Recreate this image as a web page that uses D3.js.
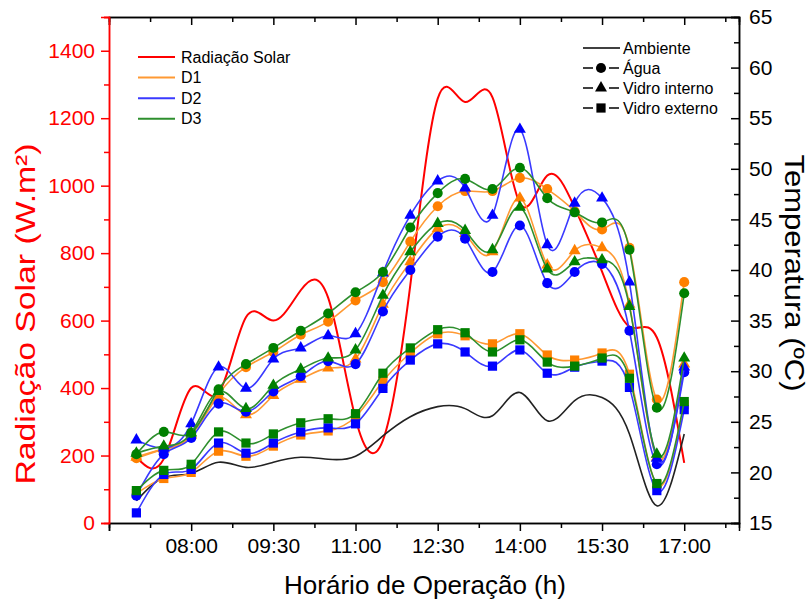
<!DOCTYPE html>
<html><head><meta charset="utf-8">
<script src="https://cdn.jsdelivr.net/npm/d3@7"></script>
<style>
body{margin:0;background:#fff}
svg{display:block}
text{font-family:"Liberation Sans",Arial,sans-serif}
</style></head>
<body><svg id="c" width="808" height="603"></svg>
<script>
const times = ["07:00","07:30","08:00","08:30","09:00","09:30","10:00","10:30","11:00","11:30","12:00","12:30","13:00","13:30","14:00","14:30","15:00","15:30","16:00","16:30","17:00"];
const radiacao = [195,190,400,385,610,600,690,668,310,245,705,1258,1248,1262,948,1030,935,745,582,550,178];
const ambiente = [17.2,19.5,19.9,21.0,20.5,21.0,21.5,21.3,21.6,23.6,25.5,26.5,26.3,25.6,27.9,25.1,27.1,27.4,23.8,16.7,23.8];

const d1Agua   = [21.4,22.3,23.7,27.7,30.4,31.9,33.6,34.9,37.0,38.8,42.8,46.3,47.8,47.8,49.1,48.0,45.8,44.0,42.2,27.2,38.8];
const d1VidInt = [21.5,22.3,23.7,27.4,25.7,27.6,29.2,30.3,31.2,36.6,40.8,44.1,43.6,41.8,47.1,40.5,41.9,42.2,36.6,21.5,30.7];
const d1VidExt = [17.9,19.4,20.0,22.1,21.6,22.6,23.7,24.1,25.5,29.0,31.8,33.7,33.5,32.7,33.7,31.6,31.1,31.8,29.7,18.8,26.7];

const d2Agua   = [17.7,21.8,23.4,26.8,26.0,28.0,29.5,31.0,30.7,35.9,40.0,43.3,43.1,39.8,44.4,38.7,39.8,40.6,34.0,20.8,29.9];
const d2VidInt = [23.2,22.4,24.8,30.4,28.3,31.2,32.3,33.5,33.7,39.7,45.4,48.8,48.1,45.4,53.9,42.5,46.6,47.1,38.8,21.4,30.4];
const d2VidExt = [16.0,19.8,20.3,22.9,21.9,22.9,24.0,24.4,24.8,28.3,31.1,32.7,31.9,30.5,32.1,29.8,30.4,31.0,28.4,18.2,26.2];

const d3Agua   = [21.8,24.0,23.9,28.2,30.7,32.3,34.0,35.7,37.8,39.8,44.2,47.6,49.0,48.0,50.1,47.1,45.7,44.7,42.0,26.4,37.7];
const d3VidInt = [21.9,22.6,23.9,28.0,26.3,28.6,30.2,31.3,32.1,37.5,41.8,44.6,43.9,42.0,46.2,40.1,40.8,41.0,36.4,21.8,31.3];
const d3VidExt = [18.2,20.2,20.8,24.0,22.9,23.8,24.9,25.3,25.8,29.8,32.3,34.1,33.8,31.9,33.1,30.9,30.5,31.3,29.3,18.9,27.0];

const xTickLabels = ["08:00","09:30","11:00","12:30","14:00","15:30","17:00"];
const leftTicks = [0,200,400,600,800,1000,1200,1400];
const rightTicks = [15,20,25,30,35,40,45,50,55,60,65];

const hrs = s => { const [h,m] = s.split(":").map(Number); return h + m/60; };

const L = 109, R = 739, T = 17, B = 523;
const svg = d3.select("#c");
const x = d3.scaleLinear().domain([6.5, 18]).range([L, R]);
const yL = d3.scaleLinear().domain([0, 1500]).range([B, T]);
const yR = d3.scaleLinear().domain([15, 65]).range([B, T]);

const xs = times.map(hrs);

// axes
const majorX = [6.5].concat(xTickLabels.map(hrs));
const minorX = majorX.map(v => v + 0.75);
const xAxisB = d3.axisBottom(x).tickValues(majorX).tickFormat(v => { const lab = xTickLabels.find(t => Math.abs(hrs(t)-v)<1e-6); return lab || ""; }).tickSize(8).tickPadding(7);
const gB = svg.append("g").attr("transform", `translate(0,${B})`).call(xAxisB);
gB.selectAll("text").attr("font-size", 21).attr("fill", "#000");
gB.append("g").call(d3.axisBottom(x).tickValues(minorX).tickSize(5).tickFormat(""));
const gT = svg.append("g").attr("transform", `translate(0,${T})`).call(d3.axisBottom(x).tickValues(majorX).tickSize(8).tickFormat(""));
gT.append("g").call(d3.axisBottom(x).tickValues(minorX).tickSize(5).tickFormat(""));

const gL = svg.append("g").attr("transform", `translate(${L},0)`).call(d3.axisLeft(yL).tickValues(leftTicks).tickFormat(d3.format("d")).tickSize(8).tickPadding(6));
gL.append("g").call(d3.axisLeft(yL).tickValues(leftTicks.map(v=>v+100)).tickSize(5).tickFormat(""));
gL.selectAll("text").attr("font-size", 21).attr("fill", "#ff0000");
gL.selectAll("line,path").attr("stroke", "#ff0000");

const gR = svg.append("g").attr("transform", `translate(${R},0)`).call(d3.axisRight(yR).tickValues(rightTicks).tickSize(-8).tickPadding(10));
gR.append("g").call(d3.axisRight(yR).tickValues(rightTicks.slice(0,-1).map(v=>v+2.5)).tickSize(-5).tickFormat(""));
gR.selectAll("text").attr("font-size", 21).attr("fill", "#000").attr("x", 10);

svg.selectAll(".domain").attr("stroke-width", 1.5);
svg.selectAll(".tick line").attr("stroke-width", 1.5);
gL.selectAll(".domain").attr("stroke", "#ff0000");

// titles
svg.append("text").attr("x", 425).attr("y", 594).attr("text-anchor","middle").attr("font-size", 26).text("Horário de Operação (h)");
svg.append("text").attr("transform", "translate(35,314) rotate(-90) scale(1.25,1)").attr("text-anchor","middle").attr("font-size", 27).attr("fill","#ff0000").text("Radiação Solar (W.m²)");
svg.append("text").attr("transform", "translate(785,273) rotate(90) scale(1.15,1)").attr("text-anchor","middle").attr("font-size", 27).attr("fill","#000").text("Temperatura (ºC)");

// lines
const lineL = d3.line().x((d,i)=>x(xs[i])).y(d=>yL(d)).curve(d3.curveNatural);
const lineR = d3.line().x((d,i)=>x(xs[i])).y(d=>yR(d)).curve(d3.curveNatural);
const plot = svg.append("g");
plot.append("path").attr("d", lineL(radiacao)).attr("fill","none").attr("stroke","#ff0000").attr("stroke-width",2);
plot.append("path").attr("d", lineR(ambiente)).attr("fill","none").attr("stroke","#222").attr("stroke-width",1.6);

const colors = {D1:"#ff8000", D2:"#0000ff", D3:"#008000"};
const lineColors = {D1:"#ff9933", D2:"#3a3aff", D3:"#2e8f2e"};
const series = [
  {d:"D1", v:d1Agua, s:"circle"},{d:"D1", v:d1VidInt, s:"tri"},{d:"D1", v:d1VidExt, s:"sq"},
  {d:"D2", v:d2Agua, s:"circle"},{d:"D2", v:d2VidInt, s:"tri"},{d:"D2", v:d2VidExt, s:"sq"},
  {d:"D3", v:d3Agua, s:"circle"},{d:"D3", v:d3VidInt, s:"tri"},{d:"D3", v:d3VidExt, s:"sq"}
];
const sym = {circle: d3.symbol(d3.symbolCircle, 80), tri: d3.symbol(d3.symbolTriangle, 62), sq: d3.symbol(d3.symbolSquare, 85)};
series.forEach(s => {
  const g = plot.append("g");
  g.append("path").attr("d", lineR(s.v)).attr("fill","none").attr("stroke", lineColors[s.d]).attr("stroke-width",1.6);
  g.selectAll("path.m").data(s.v).join("path").attr("class","m")
    .attr("transform",(d,i)=>`translate(${x(xs[i])},${yR(d)})`)
    .attr("d", sym[s.s]()).attr("fill", colors[s.d]);
});

// legend left
const legL = [{t:"Radiação Solar", c:"#ff0000"},{t:"D1", c:"#ff9933"},{t:"D2", c:"#3a3aff"},{t:"D3", c:"#2e8f2e"}];
legL.forEach((e,i) => {
  const yy = 57 + i*20.6;
  svg.append("line").attr("x1",138).attr("x2",175).attr("y1",yy).attr("y2",yy).attr("stroke",e.c).attr("stroke-width",2);
  svg.append("text").attr("x",181).attr("y",yy+5.5).attr("font-size",16).text(e.t);
});
// legend right
const legR = [{t:"Ambiente", s:null},{t:"Água", s:"circle"},{t:"Vidro interno", s:"tri"},{t:"Vidro externo", s:"sq"}];
legR.forEach((e,i) => {
  const yy = 48 + i*20;
  if (!e.s) {
    svg.append("line").attr("x1",583).attr("x2",620).attr("y1",yy).attr("y2",yy).attr("stroke","#000").attr("stroke-width",1.5);
  } else {
    svg.append("line").attr("x1",583).attr("x2",593).attr("y1",yy).attr("y2",yy).attr("stroke","#000").attr("stroke-width",1.5);
    svg.append("line").attr("x1",609).attr("x2",619).attr("y1",yy).attr("y2",yy).attr("stroke","#000").attr("stroke-width",1.5);
    svg.append("path").attr("transform",`translate(601,${yy})`).attr("d", sym[e.s]()).attr("fill","#000");
  }
  svg.append("text").attr("x",623).attr("y",yy+5.5).attr("font-size",16).text(e.t);
});
</script></body></html>
